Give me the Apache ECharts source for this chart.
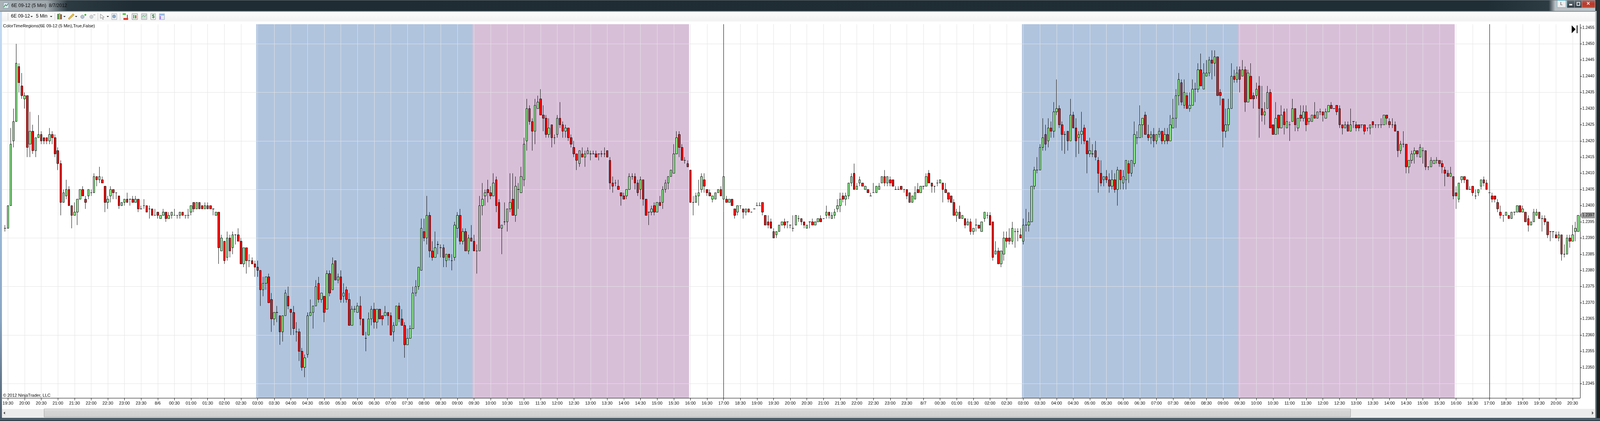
<!DOCTYPE html>
<html><head><meta charset="utf-8">
<style>html,body{margin:0;padding:0;background:#fff;overflow:hidden}#c{height:1078px}</style>
<script src="https://cdn.jsdelivr.net/npm/echarts@6/dist/echarts.min.js"></script>
</head><body><div id="c"></div>
<script>
// Prices are stored as hundredths of a pip above 1: 2393 means 1.2393. One row = 10 five-minute bars.
const opens = [
2393,2393,2400,2420,2426,2443,2437,2433,2434,2419,
2423,2417,2421,2422,2421,2421,2420,2422,2421,2417,
2413,2401,2403,2405,2400,2397,2398,2402,2405,2402,
2403,2404,2404,2409,2408,2408,2406,2401,2403,2405,
2404,2403,2400,2401,2402,2402,2402,2401,2402,2399,
2400,2400,2399,2399,2397,2398,2396,2397,2398,2396,
2397,2397,2397,2397,2398,2397,2397,2398,2401,2399,
2401,2400,2399,2400,2400,2399,2397,2398,2386,2389,
2384,2390,2387,2391,2391,2389,2382,2387,2383,2383,
2382,2381,2380,2374,2376,2378,2371,2365,2367,2366,
2361,2366,2372,2368,2367,2361,2361,2355,2350,2354,
2366,2367,2369,2376,2371,2372,2368,2379,2374,2383,
2377,2378,2372,2374,2371,2363,2368,2367,2369,2365,
2359,2360,2365,2368,2364,2368,2366,2366,2367,2366,
2361,2363,2369,2365,2363,2357,2359,2362,2373,2375,
2380,2392,2390,2397,2386,2384,2388,2387,2387,2383,
2385,2383,2384,2393,2397,2389,2392,2386,2390,2389,
2386,2386,2400,2403,2405,2404,2403,2408,2401,2393,
2395,2395,2399,2402,2397,2405,2404,2408,2420,2430,
2426,2423,2430,2433,2428,2427,2422,2425,2421,2422,
2427,2425,2423,2424,2421,2418,2416,2413,2416,2415,
2416,2416,2416,2416,2416,2416,2416,2417,2414,2407,
2407,2406,2404,2403,2403,2405,2409,2409,2407,2405,
2408,2402,2398,2398,2400,2398,2401,2401,2405,2407,
2409,2410,2416,2422,2418,2414,2413,2411,2401,2401,
2403,2405,2408,2405,2404,2402,2402,2404,2405,2402,
2402,2401,2402,2399,2398,2400,2399,2398,2399,2398,
2399,2400,2400,2401,2397,2395,2395,2392,2391,2392,
2394,2395,2395,2394,2393,2394,2396,2396,2395,2393,
2395,2395,2394,2395,2396,2396,2397,2398,2396,2397,
2399,2400,2403,2402,2403,2407,2410,2405,2407,2407,
2405,2405,2403,2404,2404,2405,2407,2409,2407,2408,
2408,2405,2405,2406,2405,2405,2404,2401,2402,2405,
2404,2406,2406,2410,2407,2406,2407,2407,2407,2405,
2404,2403,2401,2397,2398,2396,2396,2394,2395,2392,
2394,2394,2392,2396,2397,2397,2395,2385,2386,2382,
2385,2390,2390,2389,2392,2392,2391,2389,2394,2394,
2395,2406,2411,2411,2418,2422,2420,2424,2423,2429,
2430,2425,2422,2423,2420,2428,2424,2421,2422,2424,
2420,2416,2416,2417,2414,2410,2408,2409,2408,2406,
2408,2405,2411,2407,2408,2413,2410,2413,2421,2421,
2425,2428,2422,2421,2422,2420,2422,2423,2420,2422,
2420,2424,2427,2434,2438,2431,2434,2430,2431,2436,
2436,2442,2436,2440,2441,2445,2444,2446,2435,2433,
2423,2425,2430,2440,2439,2442,2440,2442,2432,2440,
2434,2434,2437,2430,2428,2430,2435,2425,2422,2428,
2424,2429,2424,2425,2426,2430,2424,2428,2427,2429,
2426,2426,2428,2427,2429,2429,2427,2429,2431,2430,
2431,2430,2425,2424,2425,2423,2426,2425,2425,2425,
2425,2424,2424,2426,2425,2425,2425,2425,2428,2426,
2425,2425,2423,2417,2419,2419,2412,2414,2416,2417,
2415,2417,2417,2412,2412,2413,2414,2414,2413,2411,
2410,2409,2409,2404,2402,2408,2409,2408,2405,2406,
2403,2404,2406,2408,2407,2404,2403,2403,2401,2398,
2397,2397,2397,2396,2398,2398,2400,2398,2398,2396,
2394,2395,2397,2398,2396,2396,2395,2392,2392,2391,
2390,2391,2385,2385,2390,2389,2392,2392];
const closes = [
2393,2400,2419,2426,2444,2438,2434,2434,2418,2423,
2417,2421,2422,2420,2420,2420,2422,2421,2416,2413,
2401,2404,2405,2400,2397,2398,2402,2405,2403,2401,
2405,2404,2409,2408,2409,2407,2401,2402,2405,2404,
2404,2400,2401,2402,2401,2402,2401,2402,2399,2399,
2400,2398,2399,2397,2397,2397,2397,2398,2396,2397,
2398,2397,2397,2398,2397,2397,2397,2400,2399,2401,
2399,2399,2400,2399,2399,2399,2398,2387,2390,2383,
2390,2386,2391,2391,2389,2382,2387,2383,2383,2382,
2381,2380,2374,2376,2378,2370,2365,2367,2367,2361,
2366,2373,2369,2367,2362,2361,2355,2350,2353,2366,
2367,2369,2375,2371,2373,2367,2379,2373,2382,2377,
2378,2371,2373,2371,2363,2368,2368,2369,2365,2360,
2359,2365,2368,2364,2368,2365,2365,2367,2366,2360,
2363,2369,2365,2363,2357,2359,2362,2373,2375,2381,
2393,2390,2397,2386,2384,2387,2388,2387,2384,2385,
2384,2383,2394,2397,2389,2392,2386,2390,2389,2386,
2386,2400,2402,2404,2404,2403,2407,2400,2393,2394,
2395,2399,2401,2397,2406,2405,2409,2419,2430,2426,
2423,2431,2432,2428,2427,2422,2424,2421,2421,2427,
2425,2423,2424,2421,2419,2416,2414,2417,2415,2416,
2417,2416,2416,2415,2416,2416,2416,2415,2407,2406,
2407,2405,2403,2402,2405,2409,2409,2407,2404,2408,
2402,2397,2398,2399,2398,2401,2400,2405,2407,2409,
2411,2416,2421,2418,2414,2414,2412,2401,2401,2403,
2404,2409,2406,2404,2403,2403,2404,2405,2403,2409,
2401,2402,2400,2397,2400,2400,2398,2399,2398,2398,
2399,2400,2400,2398,2394,2394,2393,2390,2392,2394,
2395,2394,2395,2394,2393,2397,2396,2395,2394,2394,
2395,2394,2395,2396,2395,2396,2398,2397,2397,2398,
2400,2402,2402,2403,2407,2409,2405,2406,2408,2406,
2406,2404,2403,2404,2406,2406,2409,2407,2409,2407,
2406,2405,2405,2405,2405,2403,2401,2403,2404,2404,
2406,2406,2409,2407,2406,2406,2407,2408,2405,2404,
2402,2401,2397,2398,2396,2397,2394,2395,2392,2393,
2394,2393,2395,2398,2397,2394,2384,2386,2382,2386,
2390,2389,2389,2393,2392,2392,2390,2394,2394,2395,
2406,2411,2411,2418,2421,2419,2424,2423,2429,2430,
2425,2422,2422,2420,2428,2424,2420,2422,2423,2420,
2416,2417,2416,2415,2410,2407,2409,2408,2406,2408,
2405,2411,2408,2409,2414,2410,2414,2422,2421,2425,
2427,2422,2421,2422,2420,2422,2423,2420,2422,2420,
2425,2427,2434,2439,2432,2435,2430,2431,2436,2436,
2442,2437,2441,2441,2445,2444,2446,2434,2434,2423,
2425,2430,2440,2439,2441,2439,2442,2432,2441,2433,
2433,2436,2430,2428,2429,2435,2424,2422,2427,2424,
2428,2425,2426,2425,2430,2425,2427,2427,2429,2425,
2427,2428,2427,2429,2429,2428,2429,2431,2430,2430,
2429,2425,2424,2425,2423,2425,2426,2424,2424,2425,
2423,2424,2425,2425,2425,2425,2425,2428,2427,2425,
2425,2423,2417,2419,2419,2412,2414,2416,2417,2416,
2418,2417,2412,2412,2414,2414,2414,2413,2412,2410,
2409,2410,2403,2403,2407,2409,2408,2405,2405,2404,
2403,2405,2408,2407,2405,2404,2402,2402,2399,2397,
2397,2398,2396,2398,2398,2400,2398,2399,2395,2394,
2395,2398,2398,2396,2396,2395,2391,2392,2392,2390,
2391,2385,2385,2390,2389,2391,2393,2397];
const highs = [
2394,2400,2424,2430,2450,2444,2441,2435,2434,2429,
2425,2421,2428,2423,2421,2421,2424,2423,2422,2418,
2414,2405,2408,2406,2400,2401,2402,2405,2406,2403,
2405,2405,2410,2409,2412,2409,2406,2403,2406,2405,
2404,2403,2401,2402,2404,2402,2403,2403,2402,2400,
2402,2400,2400,2399,2399,2398,2397,2399,2398,2398,
2398,2399,2397,2398,2398,2397,2399,2400,2401,2401,
2401,2400,2401,2401,2400,2399,2398,2398,2391,2389,
2392,2391,2392,2391,2393,2390,2387,2387,2385,2384,
2383,2383,2380,2378,2378,2379,2373,2367,2369,2366,
2366,2374,2375,2368,2369,2364,2362,2356,2354,2367,
2371,2369,2377,2378,2373,2372,2380,2380,2384,2383,
2379,2380,2376,2375,2373,2369,2369,2370,2372,2365,
2361,2367,2369,2370,2368,2368,2366,2369,2367,2367,
2364,2369,2370,2368,2364,2362,2363,2375,2377,2381,
2396,2396,2403,2398,2389,2392,2389,2388,2388,2385,
2385,2385,2395,2398,2399,2393,2393,2391,2394,2391,
2388,2403,2407,2405,2408,2406,2410,2409,2402,2394,
2401,2399,2410,2410,2409,2407,2412,2421,2433,2431,
2427,2433,2434,2436,2431,2428,2427,2425,2422,2428,
2432,2426,2425,2424,2422,2420,2416,2417,2418,2417,
2418,2417,2417,2417,2416,2417,2418,2417,2415,2409,
2408,2408,2404,2404,2405,2410,2410,2410,2408,2409,
2408,2402,2398,2400,2401,2401,2403,2406,2408,2409,
2411,2419,2423,2423,2419,2415,2414,2411,2403,2404,
2408,2410,2410,2405,2405,2403,2404,2405,2406,2409,
2403,2402,2402,2399,2400,2400,2399,2399,2399,2398,
2399,2401,2401,2401,2397,2397,2396,2393,2392,2394,
2395,2396,2395,2394,2397,2397,2397,2396,2395,2394,
2395,2396,2395,2396,2397,2396,2400,2398,2398,2399,
2402,2404,2404,2404,2407,2410,2413,2407,2409,2407,
2406,2405,2404,2407,2406,2407,2409,2411,2409,2409,
2408,2406,2406,2406,2405,2405,2404,2403,2406,2407,
2406,2406,2410,2411,2407,2406,2408,2408,2407,2407,
2404,2403,2402,2399,2400,2397,2396,2396,2396,2393,
2396,2394,2395,2398,2398,2398,2395,2389,2387,2386,
2392,2392,2393,2395,2393,2393,2393,2396,2399,2398,
2406,2412,2415,2419,2427,2425,2427,2426,2432,2439,
2431,2426,2423,2423,2433,2429,2427,2423,2429,2425,
2420,2421,2419,2420,2415,2414,2409,2411,2410,2411,
2410,2412,2411,2411,2414,2414,2414,2426,2423,2431,
2427,2429,2425,2423,2424,2422,2424,2423,2424,2424,
2428,2433,2436,2441,2439,2439,2435,2435,2439,2438,
2444,2447,2444,2445,2446,2448,2448,2446,2436,2433,
2430,2433,2444,2442,2443,2443,2445,2443,2442,2444,
2435,2438,2440,2437,2432,2437,2436,2425,2432,2428,
2431,2430,2430,2426,2433,2430,2427,2431,2431,2431,
2427,2428,2432,2429,2430,2429,2430,2431,2432,2430,
2431,2431,2425,2426,2426,2430,2426,2426,2425,2425,
2425,2424,2425,2426,2425,2425,2427,2428,2428,2427,
2427,2426,2423,2420,2423,2419,2414,2417,2418,2417,
2419,2418,2417,2412,2415,2414,2415,2414,2414,2412,
2411,2412,2409,2406,2407,2409,2409,2408,2406,2406,
2405,2405,2408,2409,2408,2404,2404,2403,2402,2400,
2397,2398,2397,2398,2398,2400,2400,2400,2398,2397,
2395,2399,2399,2398,2397,2397,2395,2392,2392,2392,
2392,2391,2388,2391,2391,2394,2395,2397];
const lows = [
2392,2393,2400,2418,2426,2435,2433,2430,2415,2415,
2416,2415,2421,2419,2419,2419,2419,2419,2415,2411,
2397,2401,2402,2400,2393,2397,2394,2402,2403,2399,
2402,2403,2404,2406,2407,2407,2398,2399,2401,2402,
2402,2399,2400,2400,2401,2400,2401,2401,2398,2399,
2399,2398,2396,2397,2397,2396,2396,2397,2395,2396,
2396,2397,2396,2396,2397,2396,2396,2397,2398,2399,
2399,2399,2399,2399,2399,2397,2397,2382,2386,2382,
2383,2384,2385,2388,2389,2382,2381,2379,2381,2382,
2378,2378,2369,2372,2374,2370,2361,2363,2364,2357,
2358,2366,2368,2360,2360,2358,2352,2349,2347,2353,
2366,2362,2369,2370,2370,2364,2368,2372,2374,2377,
2376,2370,2370,2370,2363,2363,2367,2367,2363,2360,
2355,2360,2363,2362,2362,2365,2363,2366,2363,2360,
2358,2363,2364,2363,2353,2357,2359,2362,2372,2374,
2380,2389,2388,2384,2383,2384,2385,2384,2381,2381,
2383,2380,2383,2390,2388,2388,2386,2385,2389,2386,
2379,2386,2397,2400,2401,2402,2403,2398,2393,2385,
2394,2392,2398,2397,2395,2399,2404,2406,2417,2425,
2417,2419,2430,2428,2423,2421,2421,2418,2419,2421,
2424,2421,2421,2420,2418,2415,2411,2412,2415,2412,
2416,2414,2416,2415,2414,2415,2415,2415,2405,2404,
2406,2405,2400,2402,2402,2405,2408,2405,2403,2402,
2400,2397,2394,2397,2397,2398,2400,2399,2404,2405,
2409,2410,2416,2415,2414,2413,2412,2401,2397,2401,
2400,2404,2404,2403,2403,2401,2402,2404,2403,2402,
2401,2401,2400,2396,2397,2399,2396,2397,2398,2398,
2399,2400,2400,2397,2394,2393,2393,2390,2390,2392,
2394,2393,2393,2393,2392,2394,2395,2394,2393,2393,
2393,2394,2394,2395,2395,2396,2396,2396,2396,2396,
2398,2398,2401,2400,2402,2406,2405,2405,2406,2406,
2405,2404,2403,2404,2404,2405,2407,2406,2406,2406,
2406,2405,2405,2405,2404,2402,2401,2401,2402,2404,
2404,2405,2406,2407,2404,2404,2406,2407,2401,2404,
2401,2401,2397,2395,2396,2396,2393,2394,2391,2391,
2392,2393,2392,2395,2396,2394,2383,2385,2382,2381,
2383,2387,2388,2388,2387,2389,2390,2388,2392,2392,
2395,2405,2410,2411,2417,2417,2418,2421,2421,2428,
2424,2417,2416,2417,2420,2424,2415,2416,2419,2419,
2410,2415,2415,2414,2404,2406,2406,2407,2404,2405,
2404,2400,2405,2405,2405,2407,2409,2412,2419,2421,
2421,2422,2420,2419,2418,2419,2421,2419,2419,2419,
2420,2424,2424,2431,2431,2430,2430,2429,2431,2432,
2435,2437,2436,2440,2440,2439,2440,2434,2431,2418,
2421,2423,2430,2438,2438,2435,2440,2429,2432,2433,
2430,2433,2421,2426,2425,2430,2424,2422,2422,2422,
2424,2422,2424,2420,2426,2423,2423,2426,2426,2423,
2425,2426,2427,2427,2428,2426,2427,2429,2430,2430,
2428,2424,2422,2424,2423,2423,2424,2423,2423,2424,
2422,2423,2422,2424,2424,2424,2424,2425,2425,2424,
2424,2423,2415,2416,2418,2410,2410,2413,2413,2415,
2415,2413,2411,2411,2412,2413,2413,2412,2410,2406,
2409,2409,2402,2399,2401,2407,2407,2405,2405,2403,
2402,2403,2405,2406,2405,2404,2401,2401,2398,2396,
2395,2397,2396,2396,2397,2398,2398,2398,2395,2392,
2394,2395,2397,2396,2392,2394,2390,2389,2390,2390,
2389,2383,2384,2385,2387,2389,2389,2392];
// x-axis labels, one every six bars starting at bar 1
const xTickLabels = ['19:30','20:00','20:30','21:00','21:30','22:00','22:30','23:00','23:30','8/6','00:30','01:00','01:30','02:00','02:30','03:00','03:30','04:00','04:30','05:00','05:30','06:00','06:30','07:00','07:30','08:00','08:30','09:00','09:30','10:00','10:30','11:00','11:30','12:00','12:30','13:00','13:30','14:00','14:30','15:00','15:30','16:00','16:30','17:00',
'18:30','19:00','19:30','20:00','20:30','21:00','21:30','22:00','22:30','23:00','23:30','8/7','00:30','01:00','01:30','02:00','02:30','03:00','03:30','04:00','04:30','05:00','05:30','06:00','06:30','07:00','07:30','08:00','08:30','09:00','09:30','10:00','10:30','11:00','11:30','12:00','12:30','13:00','13:30','14:00','14:30','15:00','15:30','16:00','16:30','17:00',
'18:30','19:00','19:30','20:00','20:30'];
const yTickLabels = ['1.2345','1.2350','1.2355','1.2360','1.2365','1.2370','1.2375','1.2380','1.2385','1.2390','1.2395','1.2400','1.2405','1.2410','1.2415','1.2420','1.2425','1.2430','1.2435','1.2440','1.2445','1.2450','1.2455'];
const yGridLines = ['1.2345','1.2360','1.2375','1.2390','1.2405','1.2420','1.2435','1.2450'];
const blueRegions = [[90.5,168.5],[366.5,444.5]];
const pinkRegions = [[168.5,246.5],[444.5,522.5]];
const sessionBreaks = [259,535];

const price = p => +(1 + p/10000).toFixed(4);
const rows = opens.map((o,i)=>[i,price(o),price(closes[i]),price(lows[i]),price(highs[i])]);
const xTicks = xTickLabels.map((_,k)=>1+6*k);
const yMin = 1.234057, yMax = 1.245607, xMin = -1.06, xMax = 567.67;
const lastPrice = price(closes[closes.length-1]);

const FONT = '"Liberation Sans", Arial, sans-serif';
// The layout follows the real window: design width 5767, scaled horizontally if the window is narrower.
const W = Math.min(window.innerWidth, 5767), H = 1078, sx = W/5767;
const el = document.getElementById('c'); el.style.width = W+'px';
const chart = echarts.init(el, null, {renderer:'canvas', width:W, height:H});
const sc = x => x*sx;

// rect: stretched with the window; raw: fixed size, for left-anchored toolbar items
const raw=(x,y,w,h,fill,extra)=>Object.assign({type:'rect',silent:true,shape:{x,y,width:w,height:h},style:{fill},z:100},extra||{});
const rect=(x,y,w,h,fill,extra)=>raw(sc(x),y,sc(w),h,fill,extra);
const txt=(x,y,t,size,fill,extra)=>({type:'text',silent:true,x,y,z:101,style:Object.assign({text:t,font:(size||11)+'px '+FONT,fill:fill||'#000',textVerticalAlign:'middle'},extra||{})});
const poly=(pts,style)=>({type:'polygon',silent:true,z:101,shape:{points:pts},style});
const lg=(stops,hor)=>({type:'linear',x:0,y:0,x2:hor?1:0,y2:hor?0:1,colorStops:stops.map(([o,c])=>({offset:o,color:c}))});
const btnFill=lg([[0,'#5f6c74'],[1,'#2f3a41']]);
const closeFill=lg([[0,'#c8574a'],[0.5,'#b6392c'],[1,'#c64a33']]);
const thumbFill=lg([[0,'#f2f2f2'],[0.2,'#d6d6d6'],[1,'#cfcfcf']]);
const gf=172/W;

const chrome=[
 raw(0,0,W,28,lg([[0,'#aab3b8'],[gf*0.7,'#a0a9ae'],[gf,'#2c3a42'],[gf*2,'#1f2c34'],[0.93,'#1f2d35'],[0.968,'#2d3b43'],[0.972,'#b9c0c4'],[1,'#bfc6ca']],true)),
 raw(0,0,W,1,'#6b7478'),
 raw(0,28,W,2,'#7d8a92'),
 rect(7,30,5743,25,lg([[0,'#fdfdfd'],[1,'#f2f2f2']])),
 rect(0,30,7,1048,lg([[0,'#c7dcf2'],[0.3,'#a9c8ea'],[0.75,'#8aa6c4'],[1,'#4b5a68']])),
 rect(5750,0,17,1078,lg([[0,'#2a3134'],[0.4,'#1d2322'],[1,'#1b1f1b']])),
 rect(5750,28,5,1050,lg([[0,'#b5bec4'],[0.6,'#6f7d86'],[1,'#5c6c76']])),
 rect(7,1047,5743,23,'#ececec'),
 rect(159,1047,4709,21,thumbFill,{style:{fill:thumbFill,stroke:'#a0a0a0',lineWidth:1}}),
 rect(0,1070,5767,8,lg([[0,'#2b3a44'],[0.35,'#5a6e7a'],[1,'#26343c']])),
 poly([[sc(18),1054],[sc(18)-4,1057.5],[sc(18),1061]],{fill:'#444'}),
 poly([[sc(5738),1053],[sc(5738)+4,1057.5],[sc(5738),1062]],{fill:'#555'}),
 // title bar
 raw(9,7,13,14,'#dfe8f2',{style:{fill:'#dfe8f2',stroke:'#7d8fa3',lineWidth:1}}),
 {type:'polyline',silent:true,z:101,shape:{points:[[10,18],[14,12],[17,15],[21,9]]},style:{stroke:'#1c8a3a',lineWidth:1.5,fill:null}},
 txt(29,15,'6E 09-12 (5 Min)  8/7/2012',12,'#0a0a0a'),
 // window buttons
 rect(5613,1,31,18,'#eeeeee',{style:{fill:'#eeeeee',stroke:'#35c8ee',lineWidth:1}}),
 txt(sc(5628)-3,10,'L',11,'#333'),
 rect(5648,1,27,19,btnFill,{style:{fill:btnFill,stroke:'#9aa3a8',lineWidth:1}}),
 rect(5656,10,11,4,'#e8e8e8'),
 rect(5675,1,27,19,btnFill,{style:{fill:btnFill,stroke:'#9aa3a8',lineWidth:1}}),
 rect(5684,6,10,8,'none',{style:{fill:'none',stroke:'#e0e0e0',lineWidth:2}}),
 rect(5702,1,47,19,closeFill,{style:{fill:closeFill,stroke:'#9aa3a8',lineWidth:1}}),
 txt(sc(5726)-6,10,'✕',13,'#f4f4f4',{fontWeight:'bold'}),
 // toolbar
 raw(20,33,1,19,'#c8c8c8'),
 txt(28,42,'6E 09-12',12),
 poly([[78,41],[84,41],[81,44]],{fill:'#222'}),
 txt(92,42,'5 Min',12),
 poly([[128,41],[134,41],[131,44]],{fill:'#222'}),
 raw(140,33,1,19,'#c8c8c8'),
 raw(147,36,3,13,'#35c52a',{style:{fill:'#35c52a',stroke:'#222',lineWidth:.6}}),
 raw(151,35,3,14,'#d8e83a',{style:{fill:'#d8e83a',stroke:'#222',lineWidth:.6}}),
 raw(155,37,3,12,'#e84a3a',{style:{fill:'#e84a3a',stroke:'#222',lineWidth:.6}}),
 poly([[162,41],[168,41],[165,44]],{fill:'#222'}),
 poly([[175,47],[177,50],[190,38],[187,35]],{fill:'#f2c230',stroke:'#8a6a10',lineWidth:.8}),
 poly([[192,41],[198,41],[195,44]],{fill:'#222'}),
 {type:'circle',silent:true,z:101,shape:{cx:211,cy:43,r:4.5},style:{fill:'#b5c3d2',stroke:'#8a99a8',lineWidth:1}},
 raw(216,37,5,2,'#22b022'),raw(217.5,35.5,2,5,'#22b022'),
 {type:'circle',silent:true,z:101,shape:{cx:234,cy:43,r:4.5},style:{fill:'#cfd3d6',stroke:'#b5b8ba',lineWidth:1}},
 raw(239,37,5,2,'#b0b0b0'),
 raw(250,33,1,19,'#c8c8c8'),
 poly([[257,36],[267,44],[263,44],[265,49],[263,50],[261,45],[257,47]],{fill:'#f4f4f4',stroke:'#666',lineWidth:.8}),
 poly([[273,41],[279,41],[276,44]],{fill:'#222'}),
 raw(286,35,13,15,'#eef2f5',{style:{fill:'#eef2f5',stroke:'#8a949c',lineWidth:.8}}),
 {type:'circle',silent:true,z:102,shape:{cx:292,cy:42,r:4},style:{fill:'#8fb0d0',stroke:'#6a7c8c',lineWidth:.8}},
 raw(307,33,1,19,'#c8c8c8'),
 raw(314,34,8,4,'#4cc43a'),raw(316,46,12,5,'#e23a2a'),raw(325,38,2,8,'#555'),
 raw(338,35,14,15,'#eceff0',{style:{fill:'#eceff0',stroke:'#666',lineWidth:.8}}),
 raw(341,38,3,9,'#3ec23a',{z:101}),raw(346,39,3,8,'#d63a2a',{z:101}),
 raw(362,35,14,15,'#d8dcdd',{style:{fill:'#d8dcdd',stroke:'#888',lineWidth:.8}}),
 {type:'polyline',silent:true,z:102,shape:{points:[[363,44],[367,39],[370,43],[375,38]]},style:{stroke:'#2ba84a',lineWidth:1,fill:null}},
 raw(386,35,12,15,'#f6f6f6',{style:{fill:'#f6f6f6',stroke:'#777',lineWidth:.8}}),
 txt(389,43,'$',11,'#1a7a2a',{fontWeight:'bold'}),
 raw(408,35,13,15,'#e6ecf6',{style:{fill:'#e6ecf6',stroke:'#6f83a8',lineWidth:.8}}),
 raw(409,37,11,2,'#5a9ad8',{z:101}),raw(409,41,3,8,'#a080e8',{z:101}),
 // chart texts and right-top marker
 txt(sc(11),67,'ColorTimeRegions(6E 09-12 (5 Min),True,False)',11),
 txt(sc(11),1013,'© 2012 NinjaTrader, LLC',11),
 poly([[sc(5665),65],[sc(5679),75],[sc(5665),85]],{fill:'#000'}),
 rect(5683,65,3,20,'#000')
];

chart.setOption({
  animation:false,
  backgroundColor:'#fff',
  grid:{left:sc(8),right:sc(72),top:62,bottom:59,containLabel:false},
  xAxis:{type:'value',min:xMin,max:xMax,scale:true,position:'bottom',
    axisLine:{show:true,onZero:false,lineStyle:{color:'#000',width:1}},
    axisTick:{show:true,length:6,lineStyle:{color:'#000',width:1},customValues:xTicks},
    axisLabel:{show:true,margin:8,fontSize:11,fontFamily:'"Liberation Sans"',color:'#000',hideOverlap:false,showMinLabel:true,showMaxLabel:true,
      customValues:xTicks,formatter:v=>xTickLabels[Math.round((v-1)/6)]},
    splitLine:{show:true,lineStyle:{color:'#e3e3e3',width:1}}},
  yAxis:[{type:'value',min:yMin,max:yMax,scale:true,position:'right',
      axisLine:{show:true,onZero:false,lineStyle:{color:'#000',width:1}},
      axisTick:{show:true,length:sx<1?5:7,inside:false,lineStyle:{color:'#000',width:1},customValues:yTickLabels.map(Number)},
      axisLabel:{show:true,margin:sx<1?6:8,fontSize:sx<1?10:11,fontFamily:'"Liberation Sans"',color:'#000',
        customValues:yTickLabels.map(Number),formatter:v=>v.toFixed(4)},
      splitLine:{show:false}},
    {type:'value',min:yMin,max:yMax,scale:true,position:'left',
      axisLine:{show:false},axisTick:{show:false,customValues:yGridLines.map(Number)},axisLabel:{show:false},
      splitLine:{show:true,lineStyle:{color:'#e3e3e3',width:1}}}],
  series:[{type:'candlestick',name:'6E 09-12',xAxisIndex:0,yAxisIndex:0,barWidth:Math.max(3,Math.round(7*sx)),clip:true,z:3,
    encode:{x:0,y:[1,2,3,4]},data:rows,
    itemStyle:{color:'#90EE90',color0:'#FF0000',borderColor:'#000',borderColor0:'#000',borderColorDoji:'#000',borderWidth:1},
    markArea:{silent:true,z:-1,itemStyle:{opacity:1},label:{show:false},
      data:blueRegions.map(([a,b])=>[{xAxis:a,itemStyle:{color:'#B0C4DE'}},{xAxis:b}])
        .concat(pinkRegions.map(([a,b])=>[{xAxis:a,itemStyle:{color:'#D8BFD8'}},{xAxis:b}]))},
    markLine:{silent:true,z:1,symbol:'none',label:{show:false},animation:false,
      lineStyle:{color:'#000',width:1,type:'solid'},
      data:sessionBreaks.map(b=>({xAxis:b}))}
  }],
  graphic:chrome
});

// last-price tag on the price axis, placed through the axis scale
const tagY = chart.convertToPixel({yAxisIndex:0},lastPrice);
const tagX = chart.convertToPixel({xAxisIndex:0},xMax);
const tagW = sx<1?37:43;
chart.setOption({graphic:chrome.concat([
 {type:'polygon',silent:true,z:102,shape:{points:[[tagX+1,tagY],[tagX+5,tagY-7],[tagX+tagW,tagY-7],[tagX+tagW,tagY+7],[tagX+5,tagY+7]]},style:{fill:'#a3a3a3',stroke:'#707070',lineWidth:1}},
 {type:'text',silent:true,z:103,x:tagX+6,y:tagY,style:{text:lastPrice.toFixed(4),font:(sx<1?10:11)+'px '+FONT,fill:'#000',textVerticalAlign:'middle'}}
])},{replaceMerge:['graphic']});
</script></body></html>
